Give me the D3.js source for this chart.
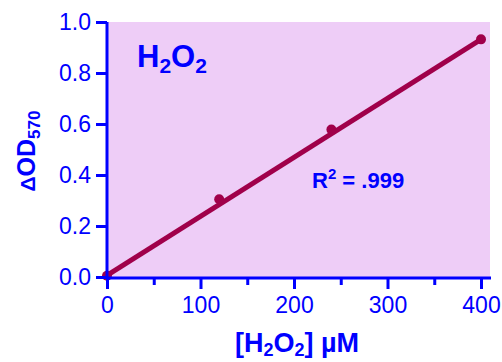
<!DOCTYPE html>
<html>
<head>
<meta charset="utf-8">
<script src="https://cdn.jsdelivr.net/npm/d3@7"></script>
<style>
  body { margin: 0; background: #fff; }
  svg { display: block; font-family: "Liberation Sans", Arial, sans-serif; }
</style>
</head>
<body>
<div id="chart"></div>
<script>
// data
const concentrations = [0, 120, 240, 400];      // [H2O2] uM
const odValues = [0.005, 0.305, 0.578, 0.932]; // delta OD570
const fitX = [0, 400];
const fitY = [0.006, 0.932];
const xTicks = [0, 100, 200, 300, 400];
const xMinorTicks = [50, 150, 250, 350];
const yTicks = [0, 0.2, 0.4, 0.6, 0.8, 1.0];

const width = 502, height = 362;
const blue = "#0000ff";
const lineColor = "#a0004a";

const svg = d3.select("#chart").append("svg")
  .attr("width", width)
  .attr("height", height);

const x = d3.scaleLinear().domain([0, 400]).range([107, 481]);
const y = d3.scaleLinear().domain([0, 1]).range([277, 22]);

//plot background
svg.append("rect")
  .attr("x", x(0))
  .attr("y", y(1))
  .attr("width", 490 - x(0))
  .attr("height", y(0) - y(1))
  .attr("fill", "#eecdf7");

//fit line
const line = d3.line()
  .x(d => x(d[0]))
  .y(d => y(d[1]));

svg.append("path")
  .attr("d", line(fitX.map((v, i) => [v, fitY[i]])))
  .attr("fill", "none")
  .attr("stroke", lineColor)
  .attr("stroke-width", 5);

svg.selectAll("circle.pt")
  .data(concentrations)
  .join("circle")
  .attr("class", "pt")
  .attr("cx", d => x(d))
  .attr("cy", (d, i) => y(odValues[i]))
  .attr("r", 5)
  .attr("fill", lineColor);

/*----------------------
AXES
----------------------*/
const yAxis = svg.append("g")
  .attr("transform", `translate(${x(0)},0)`)
  .call(d3.axisLeft(y).tickValues(yTicks).tickFormat(d3.format(".1f"))
    .tickSize(11).tickSizeOuter(0).tickPadding(5));

const xAxis = svg.append("g")
  .attr("transform", `translate(0,${y(0) + 1})`)
  .call(d3.axisBottom(x).tickValues(xTicks).tickFormat(d3.format("d"))
    .tickSize(11).tickSizeOuter(0).tickPadding(8));

svg.append("g")
  .attr("transform", `translate(0,${y(0) + 1})`)
  .call(d3.axisBottom(x).tickValues(xMinorTicks).tickFormat("")
    .tickSize(7).tickSizeOuter(0))
  .select(".domain").remove();

svg.selectAll(".domain, .tick line")
  .attr("stroke", blue)
  .attr("stroke-width", 3);

//stretch the domains a little like the original
yAxis.select(".domain").attr("d", `M0,${y(1)}V${y(0) + 1}`);
xAxis.select(".domain").attr("d", `M${x(0)},0H491`);

svg.selectAll(".tick text")
  .attr("fill", blue)
  .style("font-size", "23px")
  .style("font-family", "'Liberation Sans', Arial, sans-serif");

/*----------------------
LABELS
----------------------*/
svg.append("text")
  .attr("x", 137)
  .attr("y", 67)
  .attr("fill", blue)
  .style("font-size", "31px")
  .style("font-weight", "bold")
  .html('H<tspan dy="6" font-size="21">2</tspan><tspan dy="-6">O</tspan><tspan dy="6" font-size="21">2</tspan>');

svg.append("text")
  .attr("x", 312)
  .attr("y", 188)
  .attr("fill", blue)
  .style("font-size", "22px")
  .style("font-weight", "bold")
  .html('R<tspan dy="-9" font-size="15">2</tspan><tspan dy="9"> = .999</tspan>');

svg.append("text")
  .attr("x", 297)
  .attr("y", 352)
  .attr("text-anchor", "middle")
  .attr("fill", blue)
  .style("font-size", "27px")
  .style("font-weight", "bold")
  .html('[H<tspan dy="4" font-size="18">2</tspan><tspan dy="-4">O</tspan><tspan dy="4" font-size="18">2</tspan><tspan dy="-4">] \u00b5M</tspan>');

svg.append("text")
  .attr("transform", "translate(35,151) rotate(-90)")
  .attr("text-anchor", "middle")
  .attr("fill", blue)
  .style("font-size", "25px")
  .style("font-weight", "bold")
  .html('<tspan font-size="21">\u0394</tspan>OD<tspan dy="5" font-size="17">570</tspan>');
</script>
</body>
</html>
